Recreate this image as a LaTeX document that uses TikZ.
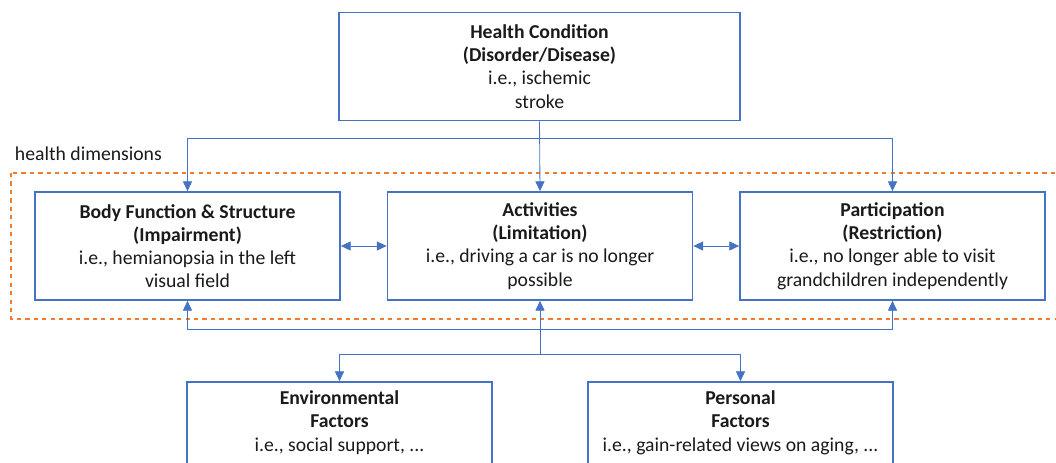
\documentclass[tikz,border=0pt]{standalone}
\usepackage{fontspec}
\setmainfont{Carlito}
\usepackage{xcolor}
\usepackage{tikz}
\usetikzlibrary{arrows.meta, positioning, calc}

\definecolor{boxblue}{HTML}{4472C4}
\definecolor{dimorange}{HTML}{ED7D31}
\definecolor{txt}{HTML}{1A1A1A}

\begin{document}
\begin{tikzpicture}[x=0.025cm, y=-0.025cm,
        box/.style={draw=boxblue, line width=1.2pt, align=center, text=txt,
            minimum width=7.625cm, minimum height=2.7cm, font=\fontsize{14}{16.5}\selectfont},
        conn/.style={draw=boxblue, line width=0.6pt, -{Triangle[length=7pt, width=6.5pt]}},
        both/.style={draw=boxblue, line width=0.6pt, {Triangle[length=7pt, width=6.5pt]}-{Triangle[length=7pt, width=6.5pt]}}]
        \useasboundingbox (0,0) rectangle (1056,462);
        \clip (0,0) rectangle (1056,462);

        % Health condition
        \node[box, minimum width=10.025cm] (hc) at (539.5,66.5)
            {\textbf{Health Condition}\\\textbf{(Disorder/Disease)}\\i.e., ischemic\\stroke};

        % Health dimensions
        \draw[dimorange, dashed, line width=0.9pt] (11,173) rectangle (1062,319);
        \node[anchor=west, text=txt, font=\fontsize{14}{16.5}\selectfont] (hdlabel) at (10,154) {health dimensions};

        \node[box] (body) at (187.5,246)
            {\textbf{Body Function \& Structure}\\\textbf{(Impairment)}\\i.e., hemianopsia in the left\\visual field};
        \node[box] (act) at (540,246)
            {\textbf{Activities}\\\textbf{(Limitation)}\\i.e., driving a car is no longer\\possible};
        \node[box] (part) at (892.5,246)
            {\textbf{Participation}\\\textbf{(Restriction)}\\i.e., no longer able to visit\\grandchildren independently};

        % Contextual factors
        \node[box] (env) at (339.5,436)
            {\textbf{Environmental}\\\textbf{Factors}\\i.e., social support, ...\\\strut};
        \node[box] (pers) at (740.5,436)
            {\textbf{Personal}\\\textbf{Factors}\\i.e., gain-related views on aging, ...\\\strut};

        % Connectors
        \coordinate (split) at (540,138);
        \coordinate (fb) at (540,329);
        \coordinate (ctx) at (540,354);

        \draw[conn] (hc.south) -- (act.north);
        \draw[conn] (split) -| (body.north);
        \draw[conn] (split) -| (part.north);

        \draw[both] (body.east) -- (act.west);
        \draw[both] (act.east) -- (part.west);

        \draw[both] (body.south) |- (fb) -| (part.south);

        \draw[conn] (ctx) -- (act.south);
        \draw[conn] (ctx) -| (env.north);
        \draw[conn] (ctx) -| (pers.north);
\end{tikzpicture}
\end{document}
